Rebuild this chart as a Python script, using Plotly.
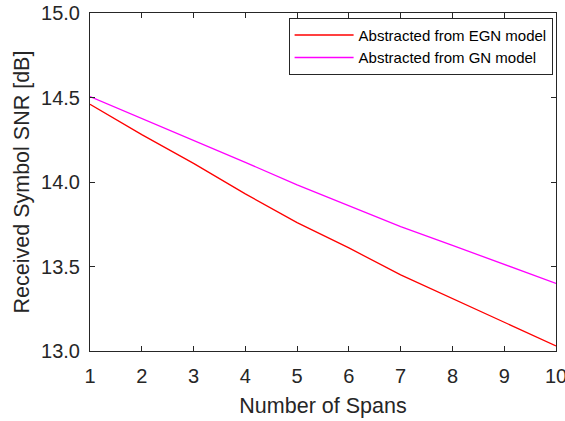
import plotly.graph_objects as go

spans = [1, 2, 3, 4, 5, 6, 7, 8, 9, 10]
snr_egn = [14.46, 14.28, 14.11, 13.93, 13.76, 13.61, 13.45, 13.31, 13.17, 13.03]
snr_gn = [14.505, 14.376, 14.245, 14.116, 13.983, 13.86, 13.736, 13.625, 13.512, 13.40]
y_ticks = [13.0, 13.5, 14.0, 14.5, 15.0]
x_ticks = spans

FONT = "Liberation Sans, Arial, sans-serif"
AX = "#262626"

fig = go.Figure()
fig.add_trace(go.Scatter(x=spans, y=snr_egn, mode="lines", name="Abstracted from EGN model",
                         line=dict(color="#FF0000", width=1.3)))
fig.add_trace(go.Scatter(x=spans, y=snr_gn, mode="lines", name="Abstracted from GN model",
                         line=dict(color="#FF00FF", width=1.3)))

fig.update_layout(
    width=565, height=421,
    margin=dict(l=90, r=9, t=13, b=70, autoexpand=False),
    paper_bgcolor="white", plot_bgcolor="white",
    font=dict(family=FONT, color=AX),
    showlegend=True,
    legend=dict(x=0.9927, y=0.986, xanchor="right", yanchor="top",
                bgcolor="white", bordercolor=AX, borderwidth=1,
                font=dict(size=15, family=FONT, color="#000000"),
                itemwidth=59, tracegroupgap=0,
                entrywidth=258, entrywidthmode="pixels"),
    xaxis=dict(range=[1, 10], tickvals=x_ticks, ticktext=[str(v) for v in x_ticks],
               showgrid=False, zeroline=False, showline=True, linecolor=AX, linewidth=1,
               mirror="ticks", ticks="inside", ticklen=5, tickcolor=AX,
               ticklabeloverflow="allow", automargin=False, ticklabelstandoff=7,
               tickfont=dict(size=20, color=AX),
               title=dict(text="Number of Spans", font=dict(size=21.5, color=AX), standoff=11)),
    yaxis=dict(range=[13, 15], tickvals=y_ticks, ticktext=[f"{v:.1f}" for v in y_ticks],
               showgrid=False, zeroline=False, showline=True, linecolor=AX, linewidth=1,
               mirror="ticks", ticks="inside", ticklen=5, tickcolor=AX,
               ticklabeloverflow="allow", automargin=False, ticklabelstandoff=5,
               tickfont=dict(size=20, color=AX),
               title=dict(text="Received Symbol SNR [dB]", font=dict(size=21.5, color=AX), standoff=5)),
)

fig.write_html("out.html", config={"displayModeBar": False},
               post_script="document.body.style.margin='0';document.body.style.overflow='hidden';")
